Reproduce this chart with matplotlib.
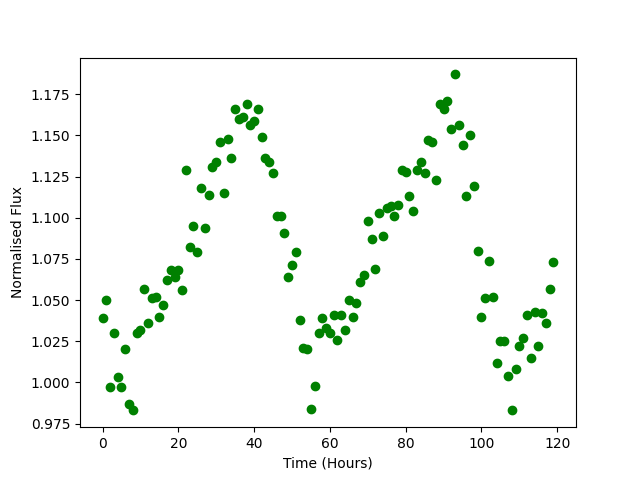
import matplotlib
matplotlib.use("Agg")
import matplotlib.pyplot as plt
import numpy as np

hours = list(range(120))
flux = [
    1.039, 1.050, 0.997, 1.030, 1.003, 0.997, 1.020, 0.987, 0.983, 1.030,
    1.032, 1.057, 1.036, 1.051, 1.052, 1.040, 1.047, 1.062, 1.068, 1.064,
    1.068, 1.056, 1.129, 1.082, 1.095, 1.079, 1.118, 1.094, 1.114, 1.131,
    1.134, 1.146, 1.115, 1.148, 1.136, 1.166, 1.160, 1.161, 1.169, 1.156,
    1.159, 1.166, 1.149, 1.136, 1.134, 1.127, 1.101, 1.101, 1.091, 1.064,
    1.071, 1.079, 1.038, 1.021, 1.020, 0.984, 0.998, 1.030, 1.039, 1.033,
    1.030, 1.041, 1.026, 1.041, 1.032, 1.050, 1.040, 1.048, 1.061, 1.065,
    1.098, 1.087, 1.069, 1.103, 1.089, 1.106, 1.107, 1.101, 1.108, 1.129,
    1.128, 1.113, 1.104, 1.129, 1.134, 1.127, 1.147, 1.146, 1.123, 1.169,
    1.166, 1.171, 1.154, 1.187, 1.156, 1.144, 1.113, 1.150, 1.119, 1.080,
    1.040, 1.051, 1.074, 1.052, 1.012, 1.025, 1.025, 1.004, 0.983, 1.008,
    1.022, 1.027, 1.041, 1.015, 1.043, 1.022, 1.042, 1.036, 1.057, 1.073,
]

fig, ax = plt.subplots(figsize=(6.4, 4.8), dpi=100)
ax.scatter(hours, flux, color="green")
ax.set_xlabel("Time (Hours)")
ax.set_ylabel("Normalised Flux")
fig.savefig("out.png")
